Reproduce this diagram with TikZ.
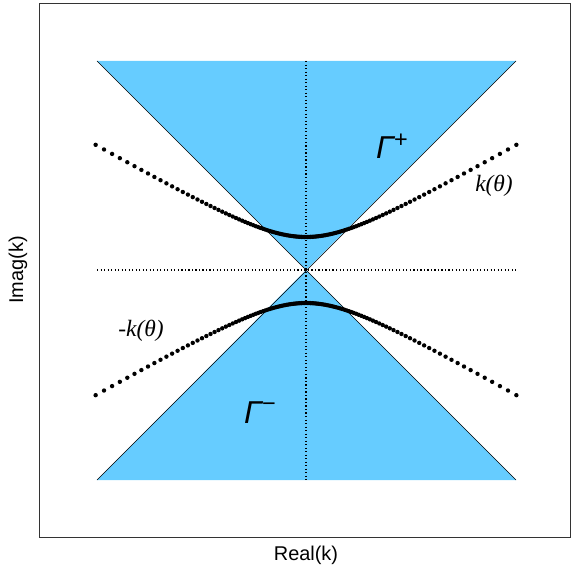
\documentclass[tikz,border=0pt]{standalone}
\usepackage{fontspec}
\setmainfont{Liberation Serif}
\newfontfamily\axisfont{Liberation Sans}
\usepackage{tikz}
\definecolor{conecol}{RGB}{102,204,255}
\tikzset{
  cone/.style={fill=conecol,draw=none},
  guide/.style={dotted,line width=1pt},
  curvedot/.style={fill=black,draw=none},
  axislabel/.style={font=\axisfont\fontsize{17}{20}\selectfont},
  curvelabel/.style={font=\itshape\fontsize{20}{24}\selectfont},
  regionlabel/.style={font=\axisfont\itshape\fontsize{27}{30}\selectfont}
}
\begin{document}
\begin{tikzpicture}[x=0.03cm,y=-0.03cm]
\useasboundingbox (0,0) rectangle (571,572);
\coordinate (O) at (306,270);
\coordinate (TL) at (97,61);
\coordinate (TR) at (516,61);
\coordinate (BL) at (97,480);
\coordinate (BR) at (516,480);
\path[cone] (TL) -- (TR) -- (O) -- cycle;
\path[cone] (BL) -- (BR) -- (O) -- cycle;
\draw[line width=0.5pt] (TL) -- (BR);
\draw[line width=0.5pt] (TR) -- (BL);
\draw[guide] (306,61) -- (306,480);
\draw[guide] (97,270) -- (516,270);
% the two curves k and -k
\foreach \i in {-60,...,60} {
  \pgfmathsetmacro{\xx}{38.5*sinh(\i*0.04)}
  \pgfmathsetmacro{\yy}{33*sqrt(1+(0.574*\xx/33)^2)}
  \fill[curvedot] (306+\xx,270-\yy) circle (0.066cm);
  \fill[curvedot] (306+\xx,270+\yy) circle (0.066cm);
}
\node[curvelabel] (kp) at (494,186) {k(θ)};
\node[curvelabel] (km) at (141,331) {-k(θ)};
\node[regionlabel] (gp) at (392,146) {Γ\raisebox{0.35em}{\fontsize{20}{20}\selectfont\upshape +}};
\node[regionlabel] (gm) at (260,413) {Γ\raisebox{0.4em}{\fontsize{20}{20}\selectfont\upshape −}};
\draw[line width=0.6pt,black!80] (39,3) rectangle (570,537);
\node[axislabel] (xl) at (306,555) {Real(k)};
\node[axislabel,rotate=90] (yl) at (18,270) {Imag(k)};
\end{tikzpicture}
\end{document}
